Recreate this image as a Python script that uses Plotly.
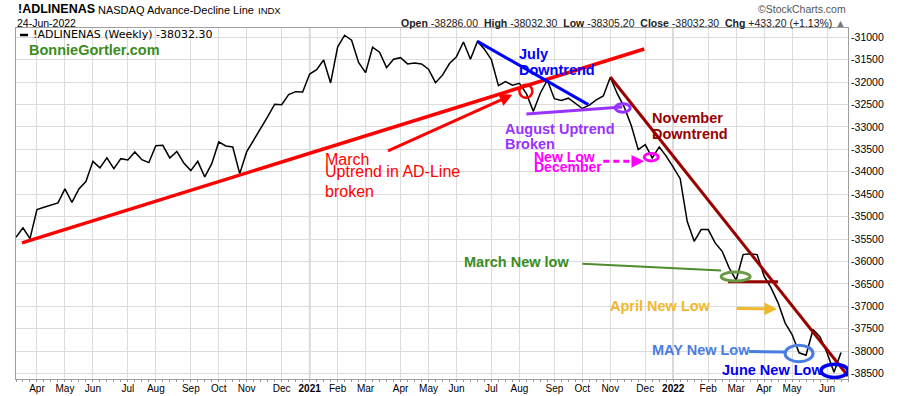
import plotly.graph_objects as go
import pandas as pd

# ---------------- data ----------------
week_start = "2020-03-16"          # first weekly bar (week beginning)
ad_line = [
    -35461, -35251, -35490, -34844, -34792, -34743, -34694, -34382, -34681, -34382,
    -34219, -33767, -33914, -33691, -33930, -33707, -33736, -33557, -33729, -33796,
    -33417, -33410, -33691, -33544, -33803, -33974, -33767, -34115, -33818, -33334,
    -33424, -33446, -34041, -33551, -33294, -33060, -32771, -32492, -32503, -32280,
    -32213, -32220, -31819, -31723, -31507, -32019, -31217, -30954, -31065, -31560,
    -31790, -31221, -31333, -31678, -31489, -31455, -31594, -31574, -31596, -31712,
    -32013, -31845, -31585, -31433, -31105, -31489, -31092, -31266, -31500, -32080,
    -31990, -32068, -32028, -32258, -32652, -32242, -31957, -32369, -32407, -32358,
    -32474, -32588, -32514, -32398, -32309, -31890, -32258, -32559, -32967, -33506,
    -33395, -33691, -33446, -33651, -33896, -34153, -35104, -35550, -35289, -35290,
    -35586, -35773, -36143, -36419, -35847, -35831, -35847, -36330, -36589, -36923,
    -37369, -37630, -38038, -38091, -37518, -37681, -38038, -38470, -38032.30,
]
dates = pd.date_range(week_start, periods=len(ad_line), freq="7D")

tick_dates = ["2020-04-06", "2020-05-04", "2020-06-01", "2020-07-06", "2020-08-03",
              "2020-09-07", "2020-10-05", "2020-11-02", "2020-12-07", "2021-01-04",
              "2021-02-01", "2021-03-01", "2021-04-05", "2021-05-03", "2021-05-31",
              "2021-07-05", "2021-08-02", "2021-09-06", "2021-10-04", "2021-11-01",
              "2021-12-06", "2022-01-03", "2022-02-07", "2022-03-07", "2022-04-04",
              "2022-05-02", "2022-06-06"]
tick_labels = ["Apr", "May", "Jun", "Jul", "Aug", "Sep", "Oct", "Nov", "Dec", "2021",
               "Feb", "Mar", "Apr", "May", "Jun", "Jul", "Aug", "Sep", "Oct", "Nov",
               "Dec", "2022", "Feb", "Mar", "Apr", "May", "Jun"]
y_ticks = [-31000, -31500, -32000, -32500, -33000, -33500, -34000, -34500,
           -35000, -35500, -36000, -36500, -37000, -37500, -38000, -38500]
y_tick_labels = [str(v) for v in y_ticks]

x_range = ["2020-03-16", "2022-06-27"]
y_range = [-38622, -30793]

# annotation drawings in data coordinates
trend_lines = [  # x0, y0, x1, y1, color, width, dash
    ("2020-03-22", -35586, "2021-12-05", -31261, "#ff0000", 3.5, "solid"),
    ("2021-06-21", -31092, "2021-10-10", -32503, "#0000ff", 3, "solid"),
    ("2021-08-09", -32710, "2021-11-13", -32554, "#9933ff", 3, "solid"),
    ("2021-11-01", -31886, "2022-06-27", -38555, "#990000", 3, "solid"),
    ("2021-10-04", -36054, "2022-02-20", -36203, "#4c8c2c", 2, "solid"),
    ("2022-02-27", -36455, "2022-04-18", -36455, "#990000", 3, "solid"),
    ("2022-03-20", -38009, "2022-04-24", -38020, "#4a7de1", 3, "solid"),
    ("2021-10-25", -33767, "2021-11-24", -33767, "#ff00ff", 3, "6px,4px"),
]
arrows = [  # tail_x, tail_y, tip_x, tip_y, color
    ("2021-03-22", -33551, "2021-07-26", -32280, "#ff0000"),
    ("2022-03-06", -37050, "2022-04-17", -37061, "#efb92f"),
    ("2021-11-23", -33767, "2021-12-05", -33767, "#ff00ff"),
]
ellipses = [  # x0, x1, y0, y1, color, width
    ("2021-08-02", "2021-08-15", -32057, -32347, "#ff0000", 2.5),
    ("2021-11-06", "2021-11-21", -32481, -32670, "#9933ff", 3),
    ("2021-12-05", "2021-12-19", -33590, -33757, "#ff00ff", 3),
    ("2022-02-20", "2022-03-21", -36237, -36437, "#6a9a45", 3),
    ("2022-04-25", "2022-05-23", -37869, -38237, "#4a7de1", 3),
    ("2022-05-31", "2022-06-27", -38291, -38587, "#0000ee", 3.5),
]
labels = [  # text, x, y, color, size, bold
    ("July", "2021-08-01", -31366, "#0000ff", 14.5, True),
    ("Downtrend", "2021-08-01", -31723, "#0000ff", 14.5, True),
    ("August Uptrend", "2021-07-18", -33038, "#9933ff", 14.5, True),
    ("Broken", "2021-07-18", -33379, "#9933ff", 14.5, True),
    ("November", "2021-12-12", -32800, "#990000", 14.5, True),
    ("Downtrend", "2021-12-12", -33161, "#990000", 14.5, True),
    ("New Low", "2021-08-16", -33680, "#ff00ff", 14, True),
    ("December", "2021-08-16", -33900, "#ff00ff", 14, True),
    ("March", "2021-01-18", -33720, "#ff0000", 16, False),
    ("Uptrend in AD-Line", "2021-01-18", -34000, "#ff0000", 16, False),
    ("broken", "2021-01-18", -34436, "#ff0000", 16, False),
    ("March New low", "2021-06-07", -36018, "#3a8c1e", 14.5, True),
    ("April New Low", "2021-10-31", -36999, "#efb92f", 14.5, True),
    ("MAY New Low", "2021-12-12", -37964, "#4a7de1", 14.5, True),
    ("June New Low", "2022-02-20", -38425, "#0000ee", 14.5, True),
]

FONT = "Liberation Sans, Arial, sans-serif"

fig = go.Figure()
fig.add_trace(go.Scatter(x=dates, y=ad_line, mode="lines",
                         line=dict(color="#000000", width=1.5),
                         showlegend=False, hoverinfo="skip"))

shapes = []
# darker year gridlines
for d, l in zip(tick_dates, tick_labels):
    if l.isdigit():
        shapes.append(dict(type="line", xref="x", yref="paper", x0=d, x1=d, y0=0, y1=1,
                           line=dict(color="#b4b4b4", width=1.5), layer="below"))
for x0, y0, x1, y1, c, w, dash in trend_lines:
    shapes.append(dict(type="line", xref="x", yref="y", x0=x0, y0=y0, x1=x1, y1=y1,
                       line=dict(color=c, width=w, dash=dash)))
for x0, x1, y0, y1, c, w in ellipses:
    shapes.append(dict(type="circle", xref="x", yref="y", x0=x0, x1=x1, y0=y0, y1=y1,
                       line=dict(color=c, width=w)))
# legend key dash
shapes.append(dict(type="line", xref="paper", yref="paper", x0=0.0048, x1=0.0144,
                   y0=0.9801, y1=0.9801, line=dict(color="#000", width=2.5)))

annotations = []
for tx, ty, hx, hy, c in arrows:
    annotations.append(dict(x=hx, y=hy, ax=tx, ay=ty, xref="x", yref="y", axref="x", ayref="y",
                            text="", showarrow=True, arrowhead=2, arrowsize=0.85,
                            arrowwidth=3, arrowcolor=c))
for t, x, y, c, s, b in labels:
    annotations.append(dict(x=x, y=y, xref="x", yref="y", text=f"<b>{t}</b>" if b else t,
                            showarrow=False, xanchor="left", yanchor="middle", borderpad=0,
                            font=dict(family=FONT, size=s, color=c)))

sp = "\u00a0"
header = [  # text, x, y, anchor, size, color, family
    ("<b>!ADLINENAS</b>", 0.0008, 1.0533, "left", 12.5, "#000", FONT),
    ("NASDAQ Advance-Decline Line", 0.0977, 1.0525, "left", 11, "#000", FONT),
    ("INDX", 0.2897, 1.0510, "left", 9.5, "#000", FONT),
    ("24-Jun-2022", 0.0, 1.0151, "left", 10.5, "#000", FONT),
    (f"<b>Open</b>{sp}-38286.00{sp}{sp}<b>High</b>{sp}-38032.30{sp}{sp}<b>Low</b>{sp}-38305.20"
     f"{sp}{sp}<b>Close</b>{sp}-38032.30{sp}{sp}<b>Chg</b>{sp}+433.20{sp}(+1.13%)"
     f"{sp}<span style='color:#777'>▲</span>", 0.9984, 1.0151, "right", 10.5, "#222", FONT),
    ("©StockCharts.com", 0.999, 1.0541, "right", 10.5, "#555", FONT),
    ("!ADLINENAS (Weekly) -38032.30", 0.0192, 0.9801, "left", 11, "#000", "DejaVu Sans, Verdana, sans-serif"),
    ("<b>BonnieGortler.com</b>", 0.0144, 0.9373, "left", 14.5, "#3a8c1e", FONT),
]
for t, x, y, anc, s, c, fam in header:
    annotations.append(dict(x=x, y=y, xref="paper", yref="paper", text=t, showarrow=False,
                            xanchor=anc, yanchor="middle", borderpad=0,
                            font=dict(family=fam, size=s, color=c)))

fig.update_layout(
    width=900, height=396, autosize=False,
    margin=dict(l=16, r=52, t=28, b=17, autoexpand=False),
    paper_bgcolor="white", plot_bgcolor="white",
    font=dict(family=FONT, color="#000"),
    shapes=shapes, annotations=annotations, showlegend=False,
    xaxis=dict(type="date", range=x_range, tickmode="array", tickvals=tick_dates,
               ticktext=[f"<b>{l}</b>" if l.isdigit() else l for l in tick_labels],
               automargin=False,
               showgrid=True, gridcolor="#dcdcdc", gridwidth=1, zeroline=False,
               showline=True, linecolor="#a0a0a0", linewidth=1, mirror=True, ticks="",
               tickfont=dict(family=FONT, size=10, color="#000"),
               minor=dict(ticks="outside", ticklen=2, tickcolor="#999",
                          tick0=week_start, dtick=7 * 24 * 3600 * 1000, showgrid=False)),
    yaxis=dict(range=y_range, side="right", tickmode="array", tickvals=y_ticks,
               ticktext=y_tick_labels, automargin=False,
               showgrid=True, gridcolor="#dcdcdc", gridwidth=1,
               zeroline=False, showline=True, linecolor="#a0a0a0", linewidth=1, mirror=True,
               ticks="", tickfont=dict(family=FONT, size=10.5, color="#000")),
)

fig.write_html("out.html", config={"displayModeBar": False},
               post_script="document.body.style.margin='0px';document.body.style.padding='0px';")
